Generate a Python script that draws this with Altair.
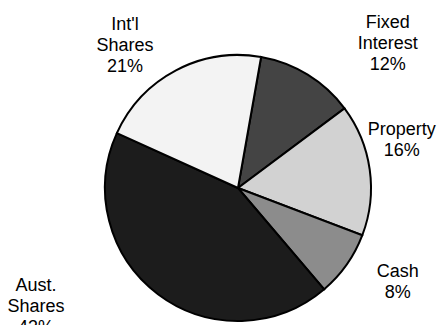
import math
import altair as alt
import pandas as pd

# ---- data ----
categories = ["Fixed Interest", "Property", "Cash", "Aust. Shares", "Int'l Shares"]
values = [12, 16, 8, 43, 21]
percent_labels = ["12%", "16%", "8%", "43%", "21%"]

# ---- styles (not data) ----
fills = ["#444444", "#d2d2d2", "#8c8c8c", "#1c1c1c", "#f3f3f3"]
LH = 21
label_nudge = {  # dx, dy of the label block centre from slice mid-angle point on the rim
    "Fixed Interest": (80, -31),
    "Property": (32, -29),
    "Cash": (51, 18),
    "Aust. Shares": (-122, 13),
    "Int'l Shares": (-51, -24),
}

labels = [c.replace(" ", "\n") + "\n" + p for c, p in zip(categories, percent_labels)]
df = pd.DataFrame({
    "category": categories,
    "value": values,
    "idx": list(range(len(categories))),
    "label": labels,
})

start = math.radians(10)
theta_scale = alt.Scale(domain=[0, 100], range=[start, start + 2 * math.pi])
R = 133

base = alt.Chart(df)

pie = base.mark_arc(outerRadius=R, stroke="black", strokeWidth=2).encode(
    theta=alt.Theta("value:Q", stack=True, scale=theta_scale),
    order=alt.Order("idx:Q"),
    color=alt.Color("category:N", scale=alt.Scale(domain=categories, range=fills), legend=None),
)

layers = [pie]
for cat, lab in zip(categories, labels):
    dx, dy = label_nudge[cat]
    n_lines = lab.count("\n") + 1
    dy = dy - (n_lines - 1) * LH / 2
    t = (
        base.transform_window(cum="sum(value)", sort=[alt.SortField("idx")], frame=[None, 0])
        .transform_calculate(mid="datum.cum - datum.value / 2")
        .transform_filter(alt.datum.category == cat)
        .mark_text(
            radius=R, dx=dx, dy=dy, align="center", baseline="middle",
            font="Liberation Sans", fontSize=18, lineHeight=LH, lineBreak="\n", color="black",
        )
        .encode(
            theta=alt.Theta("mid:Q", stack=False, scale=theta_scale),
            text="label:N",
        )
    )
    layers.append(t)

chart = (
    alt.layer(*layers)
    .properties(width=398, height=274, padding={"left": 39, "top": 51, "right": 0, "bottom": 0},
                autosize=alt.AutoSizeParams(type="none"))
    .configure_view(stroke=None)
    .configure(background="white")
)

chart.save("out.html", embed_options={"renderer": "svg", "actions": False})
